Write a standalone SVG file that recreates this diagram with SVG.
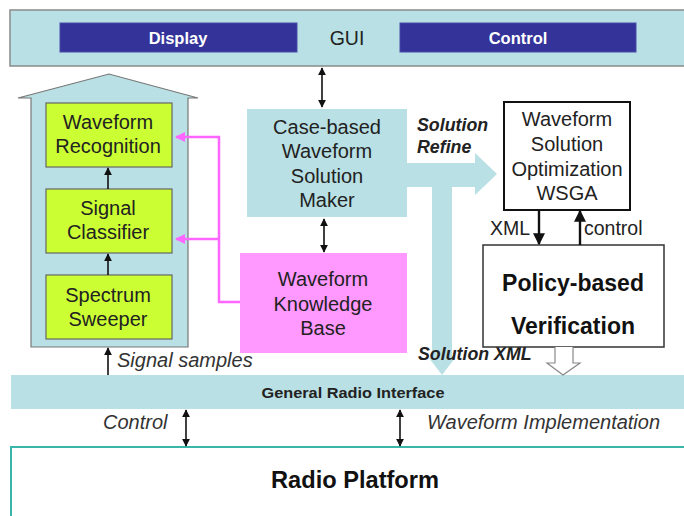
<svg xmlns="http://www.w3.org/2000/svg" width="684" height="516" viewBox="0 0 684 516">
  <style>
    text { font-family: "Liberation Sans", Arial, sans-serif; fill: #222; }
    .lbl { font-size: 20px; text-anchor: middle; }
    .it { font-size: 20px; font-style: italic; fill: #333; }
    .bi { font-size: 17.8px; font-style: italic; font-weight: bold; }
    .blk { stroke: #111; stroke-width: 1.6; fill: none; }
    .pink { stroke: #ff66ff; stroke-width: 2.5; fill: none; }
    .band { fill: #b9e0e4; }
  </style>
  <defs>
    <marker id="ah" viewBox="0 0 10 10" refX="9" refY="5" markerWidth="5" markerHeight="5" orient="auto-start-reverse">
      <path d="M0,0 L10,5 L0,10 z" fill="#111"/>
    </marker>
    <marker id="ahp" viewBox="0 0 10 10" refX="9" refY="5" markerWidth="4" markerHeight="4" orient="auto">
      <path d="M0,0 L10,5 L0,10 z" fill="#ff66ff"/>
    </marker>
  </defs>

  <rect width="684" height="516" fill="#fff"/>

  <!-- GUI bar -->
  <g id="gui">
    <rect x="10" y="10" width="680" height="56" class="band" stroke="#8a8a8a" stroke-width="1.5"/>
    <rect x="60" y="23" width="237" height="29" fill="#333399" stroke="#4a4aa8" stroke-width="1"/>
    <text x="178" y="44" style="font-size:16.5px;font-weight:bold;fill:#fff;text-anchor:middle">Display</text>
    <text x="347" y="45" style="font-size:19.5px;text-anchor:middle">GUI</text>
    <rect x="400" y="23" width="236" height="29" fill="#333399" stroke="#4a4aa8" stroke-width="1"/>
    <text x="518" y="44" style="font-size:16.5px;font-weight:bold;fill:#fff;text-anchor:middle">Control</text>
  </g>

  <!-- sensing stack housing -->
  <g id="sensing">
    <path d="M31,347 L31,98 L18,98 L109,74 L198,98 L188,98 L188,347 Z" fill="#b9e0e4" stroke="#777" stroke-width="1.2"/>
  </g>

  <g id="waveform-recognition">
    <rect x="46" y="103" width="126" height="64" fill="#ccff33" stroke="#666" stroke-width="1.2"/>
    <text class="lbl" x="108" y="129">Waveform</text>
    <text class="lbl" x="108" y="153">Recognition</text>
  </g>
  <g id="signal-classifier">
    <rect x="46" y="189" width="126" height="64" fill="#ccff33" stroke="#666" stroke-width="1.2"/>
    <text class="lbl" x="108" y="215">Signal</text>
    <text class="lbl" x="108" y="239">Classifier</text>
  </g>
  <g id="spectrum-sweeper">
    <rect x="46" y="275" width="126" height="64" fill="#ccff33" stroke="#666" stroke-width="1.2"/>
    <text class="lbl" x="108" y="302">Spectrum</text>
    <text class="lbl" x="108" y="326">Sweeper</text>
  </g>

  <!-- solution flow (wide arrows) -->
  <g id="solution-flow">
    <path class="band" d="M407,163 L475,163 L475,153 L497,174 L475,195 L475,187 L452,187 L452,358 L455,358 L442,375 L429,358 L432,358 L432,187 L407,187 Z"/>
    <text class="bi" x="417" y="131">Solution</text>
    <text class="bi" x="417" y="153">Refine</text>
    <text class="bi" x="418" y="360">Solution XML</text>
  </g>

  <g id="case-based">
    <rect x="247" y="109" width="160" height="108" fill="#b9e0e4"/>
    <text class="lbl" x="327" y="134">Case-based</text>
    <text class="lbl" x="327" y="158">Waveform</text>
    <text class="lbl" x="327" y="183">Solution</text>
    <text class="lbl" x="327" y="207">Maker</text>
  </g>

  <g id="knowledge-base">
    <rect x="240" y="253" width="167" height="100" fill="#ff99ff"/>
    <text class="lbl" x="323" y="286">Waveform</text>
    <text class="lbl" x="323" y="311">Knowledge</text>
    <text class="lbl" x="323" y="335">Base</text>
  </g>

  <g id="wsga">
    <rect x="504" y="102" width="126" height="108" fill="#fff" stroke="#111" stroke-width="2"/>
    <text class="lbl" x="567" y="126">Waveform</text>
    <text class="lbl" x="567" y="151">Solution</text>
    <text class="lbl" x="567" y="176">Optimization</text>
    <text class="lbl" x="567" y="200">WSGA</text>
  </g>

  <g id="policy">
    <rect x="483" y="245" width="181" height="102" fill="#fff" stroke="#333" stroke-width="1.5"/>
    <text x="573" y="291" style="font-size:23px;font-weight:bold;text-anchor:middle;fill:#111">Policy-based</text>
    <text x="573" y="334" style="font-size:23px;font-weight:bold;text-anchor:middle;fill:#111">Verification</text>
  </g>

  <g id="radio-interface">
    <rect x="11" y="375" width="680" height="34" class="band"/>
    <text x="353" y="398" style="font-size:14px;font-weight:bold;text-anchor:middle" textLength="183" lengthAdjust="spacingAndGlyphs">General Radio Interface</text>
  </g>

  <g id="radio-platform">
    <rect x="11" y="447" width="690" height="80" fill="#fff" stroke="#3ab5aa" stroke-width="2"/>
    <text x="355" y="488" style="font-size:23px;font-weight:bold;text-anchor:middle;fill:#111" textLength="168" lengthAdjust="spacingAndGlyphs">Radio Platform</text>
  </g>

  <!-- connectors -->
  <g id="connectors">
    <line class="blk" x1="322" y1="68" x2="322" y2="107" marker-start="url(#ah)" marker-end="url(#ah)"/>
    <line class="blk" x1="324" y1="219" x2="324" y2="252" marker-start="url(#ah)" marker-end="url(#ah)"/>
    <line class="blk" x1="108" y1="189" x2="108" y2="168" marker-end="url(#ah)"/>
    <line class="blk" x1="108" y1="275" x2="108" y2="254" marker-end="url(#ah)"/>
    <line class="blk" x1="108" y1="375" x2="108" y2="348" marker-end="url(#ah)"/>
    <line x1="539" y1="210" x2="539" y2="244" stroke="#111" stroke-width="2.4" marker-end="url(#ah)"/>
    <line x1="580" y1="245" x2="580" y2="211" stroke="#111" stroke-width="2.4" marker-end="url(#ah)"/>
    <line class="blk" x1="186" y1="410" x2="186" y2="446" marker-start="url(#ah)" marker-end="url(#ah)"/>
    <line class="blk" x1="400" y1="410" x2="400" y2="446" marker-start="url(#ah)" marker-end="url(#ah)"/>
    <path class="pink" d="M240,302 H219 V137 H176" marker-end="url(#ahp)"/>
    <path class="pink" d="M219,239 H176" marker-end="url(#ahp)"/>
    <path d="M555,347 V363 H547 L563,375 L580,363 H573 V347" fill="#fff" stroke="#888" stroke-width="1.2"/>
  </g>

  <!-- connector labels -->
  <g id="labels">
    <text class="it" x="117" y="367">Signal samples</text>
    <text class="it" x="103" y="429">Control</text>
    <text class="it" x="427" y="429">Waveform Implementation</text>
    <text x="490" y="235" style="font-size:19.5px">XML</text>
    <text x="584" y="235" style="font-size:19.5px">control</text>
  </g>
</svg>
